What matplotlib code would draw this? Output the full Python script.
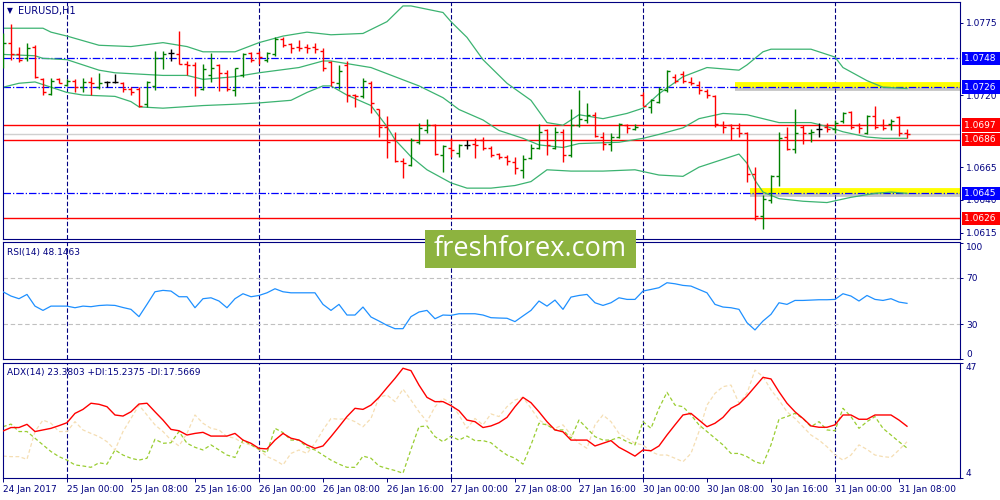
import matplotlib
matplotlib.use('Agg')
import matplotlib.pyplot as plt
import matplotlib.transforms as mtrans
import matplotlib.patheffects as pe
from matplotlib.collections import LineCollection
from matplotlib.patches import Rectangle

plt.rcParams['font.family'] = ['DejaVu Sans']

# --- data (EURUSD H1, 24 Jan 16:00 .. 31 Jan 09:00) ---
opens = [
    1.0748, 1.0760, 1.0751, 1.0748, 1.0757, 1.0732, 1.0721, 1.0732, 1.0728, 1.0731,
    1.0726, 1.0730, 1.0726, 1.0730, 1.0730, 1.0729, 1.0725, 1.0725, 1.0713, 1.0727,
    1.0748, 1.0752, 1.0751, 1.0744, 1.0743, 1.0725, 1.0735, 1.0743, 1.0737, 1.0724,
    1.0735, 1.0752, 1.0752, 1.0747, 1.0751, 1.0763, 1.0759, 1.0757, 1.0757, 1.0757,
    1.0754, 1.0745, 1.0729, 1.0743, 1.0720, 1.0719, 1.0729, 1.0709, 1.0696, 1.0686,
    1.0670, 1.0667, 1.0684, 1.0693, 1.0697, 1.0674, 1.0680, 1.0676, 1.0682, 1.0683,
    1.0686, 1.0680, 1.0675, 1.0673, 1.0669, 1.0663, 1.0672, 1.0680, 1.0693, 1.0680,
    1.0692, 1.0674, 1.0697, 1.0701, 1.0705, 1.0688, 1.0683, 1.0688, 1.0697, 1.0694,
    1.0720, 1.0711, 1.0715, 1.0724, 1.0734, 1.0736, 1.0730, 1.0728, 1.0723, 1.0719,
    1.0697, 1.0697, 1.0695, 1.0691, 1.0660, 1.0628, 1.0640, 1.0658, 1.0688, 1.0679,
    1.0696, 1.0691, 1.0694, 1.0696, 1.0694, 1.0700, 1.0707, 1.0697, 1.0691, 1.0704,
    1.0697, 1.0698, 1.0703, 1.0691]
highs = [
    1.0767, 1.0774, 1.0757, 1.0760, 1.0758, 1.0733, 1.0733, 1.0733, 1.0732, 1.0732,
    1.0733, 1.0734, 1.0737, 1.0731, 1.0736, 1.0730, 1.0726, 1.0726, 1.0731, 1.0754,
    1.0754, 1.0755, 1.0769, 1.0746, 1.0745, 1.0744, 1.0752, 1.0744, 1.0739, 1.0741,
    1.0752, 1.0753, 1.0754, 1.0753, 1.0764, 1.0764, 1.0760, 1.0762, 1.0759, 1.0760,
    1.0756, 1.0746, 1.0743, 1.0746, 1.0721, 1.0733, 1.0731, 1.0709, 1.0704, 1.0692,
    1.0672, 1.0687, 1.0699, 1.0702, 1.0698, 1.0682, 1.0687, 1.0683, 1.0686, 1.0687,
    1.0688, 1.0681, 1.0676, 1.0674, 1.0673, 1.0674, 1.0683, 1.0698, 1.0694, 1.0696,
    1.0694, 1.0709, 1.0724, 1.0714, 1.0707, 1.0692, 1.0691, 1.0699, 1.0698, 1.0698,
    1.0722, 1.0717, 1.0726, 1.0739, 1.0736, 1.0738, 1.0734, 1.0731, 1.0725, 1.0720,
    1.0700, 1.0698, 1.0699, 1.0692, 1.0665, 1.0644, 1.0659, 1.0692, 1.0696, 1.0709,
    1.0697, 1.0694, 1.0699, 1.0699, 1.0701, 1.0707, 1.0708, 1.0699, 1.0705, 1.0712,
    1.0702, 1.0702, 1.0704, 1.0694]
lows = [
    1.0741, 1.0747, 1.0745, 1.0746, 1.0733, 1.0720, 1.0720, 1.0729, 1.0727, 1.0722,
    1.0722, 1.0720, 1.0725, 1.0726, 1.0729, 1.0722, 1.0720, 1.0711, 1.0711, 1.0724,
    1.0740, 1.0746, 1.0744, 1.0735, 1.0719, 1.0724, 1.0730, 1.0723, 1.0723, 1.0719,
    1.0734, 1.0745, 1.0744, 1.0745, 1.0750, 1.0757, 1.0752, 1.0754, 1.0752, 1.0752,
    1.0738, 1.0727, 1.0725, 1.0715, 1.0711, 1.0718, 1.0706, 1.0688, 1.0672, 1.0669,
    1.0657, 1.0666, 1.0683, 1.0691, 1.0674, 1.0661, 1.0673, 1.0673, 1.0679, 1.0672,
    1.0678, 1.0673, 1.0671, 1.0667, 1.0660, 1.0657, 1.0671, 1.0679, 1.0674, 1.0679,
    1.0669, 1.0673, 1.0696, 1.0699, 1.0688, 1.0678, 1.0677, 1.0687, 1.0691, 1.0693,
    1.0712, 1.0706, 1.0714, 1.0722, 1.0729, 1.0729, 1.0728, 1.0721, 1.0718, 1.0696,
    1.0691, 1.0686, 1.0688, 1.0654, 1.0625, 1.0618, 1.0638, 1.0651, 1.0678, 1.0676,
    1.0683, 1.0684, 1.0688, 1.0692, 1.0691, 1.0699, 1.0694, 1.0691, 1.0690, 1.0694,
    1.0693, 1.0693, 1.0689, 1.0687]
closes = [
    1.0760, 1.0751, 1.0747, 1.0756, 1.0734, 1.0722, 1.0731, 1.0729, 1.0731, 1.0726,
    1.0730, 1.0729, 1.0729, 1.0730, 1.0730, 1.0725, 1.0722, 1.0712, 1.0730, 1.0748,
    1.0751, 1.0752, 1.0744, 1.0743, 1.0726, 1.0740, 1.0741, 1.0737, 1.0725, 1.0741,
    1.0751, 1.0747, 1.0749, 1.0752, 1.0763, 1.0758, 1.0756, 1.0756, 1.0756, 1.0755,
    1.0741, 1.0730, 1.0738, 1.0720, 1.0719, 1.0731, 1.0714, 1.0696, 1.0684, 1.0670,
    1.0668, 1.0686, 1.0695, 1.0697, 1.0675, 1.0681, 1.0678, 1.0682, 1.0682, 1.0682,
    1.0680, 1.0674, 1.0673, 1.0670, 1.0664, 1.0671, 1.0680, 1.0692, 1.0682, 1.0692,
    1.0674, 1.0697, 1.0702, 1.0705, 1.0689, 1.0683, 1.0688, 1.0698, 1.0695, 1.0696,
    1.0712, 1.0716, 1.0725, 1.0738, 1.0731, 1.0731, 1.0729, 1.0724, 1.0720, 1.0698,
    1.0696, 1.0695, 1.0691, 1.0660, 1.0628, 1.0641, 1.0658, 1.0687, 1.0679, 1.0691,
    1.0691, 1.0692, 1.0694, 1.0694, 1.0699, 1.0706, 1.0696, 1.0695, 1.0704, 1.0696,
    1.0695, 1.0700, 1.0691, 1.0690]

# bollinger bands, read at the bars where the curve bends
bb_up_idx = [0, 5, 6, 8, 12, 16, 20, 23, 25, 29, 32, 35, 38, 41, 45, 48, 50, 51, 55, 56,
             58, 60, 63, 66, 68, 70, 72, 75, 78, 80, 82, 85, 88, 92, 93, 95, 96, 101, 104, 105,
             108, 110, 113]
bb_up = [1.0771, 1.0771, 1.0768, 1.0765, 1.0758, 1.0757, 1.0760, 1.0757, 1.0753, 1.0753,
         1.0760, 1.0765, 1.0768, 1.0766, 1.0767, 1.0776, 1.0788, 1.0788, 1.0783, 1.0776,
         1.0764, 1.0747, 1.0729, 1.0716, 1.0699, 1.0697, 1.0705, 1.0702, 1.0706, 1.0710,
         1.0721, 1.0734, 1.0741, 1.0739, 1.0743, 1.0753, 1.0755, 1.0755, 1.0749, 1.0741,
         1.0731, 1.0726, 1.0725]
bb_mid_idx = [0, 4, 5, 8, 12, 14, 17, 20, 23, 25, 29, 32, 37, 40, 41, 43, 46, 49, 52, 55,
              57, 60, 62, 65, 67, 70, 72, 77, 80, 82, 85, 87, 90, 93, 95, 97, 101, 103, 105, 108,
              110, 113]
bb_mid = [1.0751, 1.0750, 1.0748, 1.0747, 1.0739, 1.0737, 1.0736, 1.0735, 1.0735, 1.0732,
          1.0734, 1.0737, 1.0741, 1.0746, 1.0746, 1.0744, 1.0741, 1.0734, 1.0727, 1.0718,
          1.0709, 1.0701, 1.0693, 1.0687, 1.0682, 1.0680, 1.0683, 1.0684, 1.0687, 1.0690,
          1.0695, 1.0702, 1.0706, 1.0705, 1.0702, 1.0699, 1.0699, 1.0696, 1.0692, 1.0688,
          1.0687, 1.0687]
bb_low_idx = [0, 2, 4, 5, 8, 10, 14, 16, 17, 20, 25, 29, 32, 36, 38, 40, 41, 43, 46, 48,
              49, 51, 53, 56, 58, 61, 64, 66, 68, 71, 75, 79, 82, 85, 87, 90, 92, 93, 94, 95,
              97, 100, 103, 106, 109, 111, 113]
bb_low = [1.0726, 1.0729, 1.0730, 1.0728, 1.0722, 1.0720, 1.0719, 1.0715, 1.0711, 1.0710,
          1.0712, 1.0713, 1.0714, 1.0716, 1.0722, 1.0727, 1.0727, 1.0720, 1.0712, 1.0696,
          1.0686, 1.0673, 1.0663, 1.0653, 1.0649, 1.0649, 1.0651, 1.0654, 1.0663, 1.0662,
          1.0662, 1.0663, 1.0659, 1.0658, 1.0665, 1.0671, 1.0675, 1.0668, 1.0655, 1.0646,
          1.0641, 1.0639, 1.0638, 1.0642, 1.0645, 1.0646, 1.0645]

rsi = [
    58.1, 54.4, 52.1, 55.8, 45.7, 42.0, 45.7, 45.7, 45.7, 44.3,
    45.7, 45.2, 46.2, 46.6, 46.3, 44.5, 42.9, 36.6, 47.2, 58.1,
    59.3, 58.7, 53.8, 53.8, 44.3, 52.1, 52.9, 50.1, 44.3, 52.1,
    56.4, 53.8, 54.9, 57.2, 60.7, 58.1, 57.2, 57.2, 57.2, 57.2,
    47.2, 42.0, 47.2, 38.0, 38.0, 44.9, 36.3, 32.8, 29.1, 26.2,
    26.2, 36.6, 40.6, 42.0, 34.8, 38.0, 37.7, 39.1, 39.1, 39.1,
    38.0, 35.7, 35.4, 35.2, 32.3, 37.2, 42.0, 50.1, 45.7, 50.9,
    42.9, 53.5, 54.9, 55.8, 48.6, 46.3, 48.6, 52.9, 51.5, 51.5,
    58.7, 60.1, 61.6, 65.9, 65.0, 63.6, 63.0, 60.1, 57.2, 47.2,
    44.9, 44.3, 42.9, 31.4, 25.1, 32.8, 38.6, 48.6, 47.2, 50.6,
    50.6, 50.9, 51.2, 51.2, 51.5, 56.4, 54.4, 50.1, 54.9, 51.5,
    50.6, 52.1, 49.2, 48.1]

adx = [
    21.6, 22.9, 22.9, 24.1, 21.4, 22.0, 22.6, 23.6, 24.7, 28.2,
    29.7, 32.0, 31.6, 30.7, 27.6, 27.2, 28.8, 31.7, 32.0, 28.8,
    25.7, 22.2, 21.7, 20.1, 20.7, 21.1, 19.7, 19.7, 19.7, 20.7,
    18.2, 17.0, 15.1, 14.9, 18.2, 20.7, 18.9, 18.2, 16.4, 15.1,
    16.0, 19.5, 23.2, 27.0, 30.1, 29.7, 31.3, 34.2, 37.8, 41.3,
    45.1, 44.2, 38.8, 34.2, 32.6, 32.6, 31.1, 29.2, 25.7, 25.1,
    22.9, 23.5, 24.7, 26.7, 30.7, 34.2, 32.2, 28.8, 25.1, 22.0,
    21.3, 18.2, 18.2, 18.2, 16.0, 17.0, 18.0, 15.5, 13.9, 12.2,
    14.5, 14.2, 16.0, 20.1, 23.9, 27.6, 28.2, 25.7, 23.2, 24.5,
    26.7, 30.1, 31.7, 34.7, 38.2, 41.7, 41.1, 36.3, 32.0, 28.8,
    26.3, 23.5, 23.0, 23.0, 23.9, 27.6, 27.6, 26.0, 26.0, 27.6,
    27.6, 27.6, 25.7, 23.38]
plus_di = [
    23.2, 24.2, 21.4, 21.4, 18.9, 16.4, 13.9, 12.0, 10.7, 8.9,
    8.5, 8.0, 9.7, 9.2, 14.5, 12.6, 11.4, 10.7, 11.4, 18.5,
    17.0, 17.2, 21.4, 17.0, 15.5, 14.5, 16.4, 14.5, 12.6, 11.7,
    18.2, 16.4, 14.7, 13.5, 22.6, 21.0, 18.2, 18.2, 15.5, 14.5,
    12.6, 10.7, 9.2, 8.0, 8.0, 12.2, 11.4, 8.5, 7.6, 6.8,
    5.8, 14.7, 23.2, 23.5, 19.5, 17.6, 19.7, 18.2, 19.7, 18.0,
    18.0, 17.2, 14.7, 12.6, 11.4, 9.2, 16.4, 24.5, 23.9, 22.0,
    22.0, 18.9, 25.7, 22.6, 19.5, 18.2, 18.2, 19.2, 17.6, 16.4,
    25.1, 22.6, 30.1, 36.1, 31.3, 30.7, 27.6, 23.9, 21.4, 18.9,
    16.4, 13.2, 13.2, 12.0, 10.1, 9.2, 16.4, 26.0, 27.0, 28.2,
    26.3, 23.2, 25.1, 22.0, 21.7, 30.1, 27.0, 22.6, 25.1, 27.0,
    22.6, 20.1, 17.6, 15.24]
minus_di = [
    12.2, 12.0, 12.0, 11.0, 21.4, 25.7, 24.5, 21.4, 21.4, 25.1,
    22.0, 20.7, 19.5, 17.6, 14.5, 21.4, 26.3, 31.3, 27.6, 23.9,
    21.4, 18.2, 16.0, 20.7, 27.6, 24.5, 22.6, 22.0, 19.5, 18.9,
    17.0, 16.4, 14.7, 12.0, 10.7, 8.9, 13.2, 14.5, 13.2, 17.0,
    22.0, 26.3, 26.0, 26.3, 25.1, 23.2, 26.3, 34.2, 35.1, 32.6,
    37.3, 33.2, 28.8, 25.1, 30.7, 33.8, 32.0, 27.6, 22.6, 26.3,
    23.9, 28.0, 27.0, 30.7, 33.2, 34.2, 30.1, 25.7, 23.9, 22.6,
    23.9, 20.1, 17.0, 15.1, 23.9, 27.6, 25.1, 20.7, 18.9, 17.0,
    16.4, 13.9, 12.6, 12.6, 11.4, 10.1, 13.2, 21.4, 31.3, 35.7,
    38.2, 38.8, 32.0, 35.7, 44.4, 42.0, 37.0, 33.2, 28.8, 26.3,
    23.2, 20.1, 18.2, 15.7, 12.6, 10.7, 12.6, 16.4, 14.7, 12.6,
    12.0, 11.7, 14.5, 17.57]

blue_levels = [1.0748, 1.0726, 1.0645]
red_levels = [1.0697, 1.0686, 1.0626]
yellow_marks = [(1.07275, 91.5), (1.0647, 93.4)]
day_starts = [8, 32, 56, 80, 104]
price_ticks = [1.0775, 1.0720, 1.0665, 1.0640, 1.0615]
time_ticks = list(range(0, 113, 8))
time_labels = ['24 Jan 2017', '25 Jan 00:00', '25 Jan 08:00', '25 Jan 16:00',
               '26 Jan 00:00', '26 Jan 08:00', '26 Jan 16:00', '27 Jan 00:00',
               '27 Jan 08:00', '27 Jan 16:00', '30 Jan 00:00', '30 Jan 08:00',
               '30 Jan 16:00', '31 Jan 00:00', '31 Jan 08:00']

NAVY = '#000080'
W, H = 1000, 500

def box(x0, y0, x1, y1):
    return [x0 / W, 1 - y1 / H, (x1 - x0) / W, (y1 - y0) / H]

fig = plt.figure(figsize=(10, 5), dpi=100)
ax = fig.add_axes(box(2.5, 2, 960.5, 239))
ax_rsi = fig.add_axes(box(2.5, 242, 960.5, 359))
ax_adx = fig.add_axes(box(2.5, 363, 960.5, 478))

for a in (ax, ax_rsi, ax_adx):
    a.set_xlim(-0.06, 119.69)
    for s in a.spines.values():
        s.set_color(NAVY)
        s.set_linewidth(0.8)
    a.yaxis.tick_right()
    a.tick_params(axis='y', direction='out', length=2.5, width=0.7, color=NAVY,
                  labelsize=6.5, labelcolor=NAVY, pad=1.5)
    a.tick_params(axis='x', bottom=False, labelbottom=False)
    for d in day_starts:
        a.axvline(d, color=NAVY, lw=0.8, ls=(0, (4, 2)), zorder=1)

# ---- main price panel ----
ax.set_ylim(1.06102, 1.07910)
ax.set_yticks(price_ticks)
ax.set_yticklabels([f'{v:.4f}' for v in price_ticks])

for lv in blue_levels:
    ax.axhline(lv, color='#0000ff', lw=0.9, ls=(0, (6, 1.6, 1, 1.6)), zorder=1.5)
for lv in red_levels:
    ax.axhline(lv, color='#ff0000', lw=1.0, zorder=1.5)
ax.axhline(closes[-1], color='#d0d0d0', lw=1.0, zorder=1.2)

for y, x0 in yellow_marks:
    ax.plot([x0, 125], [y, y], color='#ffff00', lw=4.2, solid_capstyle='butt', zorder=1.3,
            path_effects=[pe.SimpleLineShadow(offset=(0, -2.2), shadow_color='#808080', alpha=0.45),
                          pe.Normal()])

bb_col = '#3cb371'
ax.plot(bb_up_idx, bb_up, color=bb_col, lw=0.9, zorder=2)
ax.plot(bb_mid_idx, bb_mid, color=bb_col, lw=0.9, zorder=2)
ax.plot(bb_low_idx, bb_low, color=bb_col, lw=0.9, zorder=2)

segs, cols = [], []
tw = 0.4
for i, (o, h, l, c) in enumerate(zip(opens, highs, lows, closes)):
    col = '#008000' if c > o else ('#ff0000' if c < o else '#000000')
    segs += [[(i, l), (i, h)], [(i - tw, o), (i, o)], [(i, c), (i + tw, c)]]
    cols += [col] * 3
ax.add_collection(LineCollection(segs, colors=cols, linewidths=1.0, zorder=3))

# price boxes at the right
tr = mtrans.blended_transform_factory(fig.transFigure, ax.transData)
for lv in blue_levels:
    ax.text(964.5 / W, lv, f'{lv:.4f} ', transform=tr, color='white', fontsize=6.5,
            va='center', ha='left', clip_on=False, zorder=6,
            bbox=dict(boxstyle='square,pad=0.25', fc='#0000ff', ec='none'))
for lv in red_levels:
    ax.text(964.5 / W, lv, f'{lv:.4f} ', transform=tr, color='white', fontsize=6.5,
            va='center', ha='left', clip_on=False, zorder=6,
            bbox=dict(boxstyle='square,pad=0.25', fc='#ff0000', ec='none'))

fig.text(7 / W, 1 - 11 / H, '\u25bc', fontsize=5.5, color=NAVY, va='center')
fig.text(18 / W, 1 - 11 / H, 'EURUSD,H1', fontsize=7, color=NAVY, va='center')

# ---- RSI panel ----
ax_rsi.set_ylim(0.86, 101.1)
ax_rsi.plot(range(len(rsi)), rsi, color='#1e90ff', lw=0.9, zorder=3)
for lv in (70, 30):
    ax_rsi.axhline(lv, color='#c0c0c0', lw=0.8, ls=(0, (4, 2.5)), zorder=1)
ax_rsi.set_yticks([100, 70, 30, 0])
ax_rsi.set_yticklabels(['100', '70', '30', '0'])
labs = ax_rsi.get_yticklabels()
labs[0].set_va('top')
labs[3].set_va('bottom')
fig.text(7 / W, 1 - 252 / H, 'RSI(14) 48.1463', fontsize=6.5, color=NAVY, va='center')

# ---- ADX panel ----
ax_adx.set_ylim(4.0, 47.07)
ax_adx.plot(range(len(minus_di)), minus_di, color='#f5deb3', lw=0.9, ls=(0, (3, 2)), zorder=2)
ax_adx.plot(range(len(plus_di)), plus_di, color='#9acd32', lw=0.9, ls=(0, (3, 2)), zorder=2.5)
ax_adx.plot(range(len(adx)), adx, color='#ff0000', lw=1.0, zorder=3)
ax_adx.set_yticks([47.07, 4.0])
ax_adx.set_yticklabels(['47', '4'])
labs = ax_adx.get_yticklabels()
labs[0].set_va('top')
labs[1].set_va('bottom')
fig.text(7 / W, 1 - 372 / H, 'ADX(14) 23.3803 +DI:15.2375 -DI:17.5669',
         fontsize=6.5, color=NAVY, va='center')

ax_adx.tick_params(axis='x', bottom=True, labelbottom=True, direction='out', length=3,
                   width=0.7, color=NAVY, labelsize=6.5, labelcolor=NAVY, pad=2)
ax_adx.set_xticks(time_ticks)
ax_adx.set_xticklabels(time_labels, ha='left')

# watermark
fig.add_artist(Rectangle((425 / W, 1 - 268 / H), 211 / W, 38 / H, transform=fig.transFigure,
                         fc='#8db33f', ec='none', zorder=10))
fig.text(530 / W, 1 - 249 / H, 'freshforex.com', fontsize=19.5, color='white',
         family='Open Sans', ha='center', va='center', zorder=11)

fig.savefig('out.png', dpi=100)
